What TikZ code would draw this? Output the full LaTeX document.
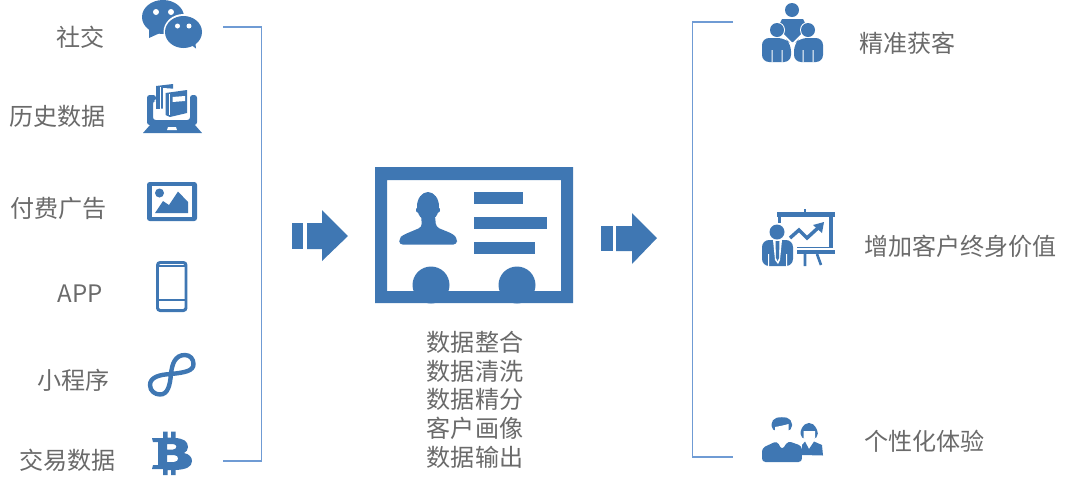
\documentclass[tikz,border=0pt]{standalone}
\usepackage{xcolor}
\usepackage{fontspec}
\setmainfont{Noto Sans CJK SC}
\usetikzlibrary{arrows.meta, positioning}
\definecolor{iconblue}{HTML}{3F77B3}
\definecolor{linkblue}{HTML}{6F9BD4}
\definecolor{labelgray}{HTML}{6A6A6A}
\tikzset{
    icon/.style={fill=iconblue, draw=none},
    cutout/.style={fill=white, draw=none},
    source/.style={font=\fontsize{13.7pt}{16pt}\selectfont, text=labelgray, inner sep=0pt},
    bracket/.style={draw=linkblue, line width=0.6pt},
}

\begin{document}
\begin{tikzpicture}[x=0.02cm, y=-0.02cm]
    \useasboundingbox (0, 0) rectangle (1080, 481);

    % left labels
    \node[source] (social) at (80.5, 37) {社交};
    \node[source] (history) at (57.5, 116) {历史数据};
    \node[source] (ads) at (58.5, 208.5) {付费广告};
    \node[source] (app) at (80.5, 293.5) {APP};
    \node[source] (miniapp) at (73.5, 380) {小程序};
    \node[source] (trade) at (67.5, 460) {交易数据};

    % center labels
    \node[source] (merge) at (475, 342) {数据整合};
    \node[source] (clean) at (475, 371) {数据清洗};
    \node[source] (refine) at (475, 399) {数据精分};
    \node[source] (portrait) at (475, 428) {客户画像};
    \node[source] (output) at (475, 457) {数据输出};

    % right labels
    \node[source] (acquire) at (907.5, 43) {精准获客};
    \node[source] (lifetime) at (960.5, 246) {增加客户终身价值};
    \node[source] (personal) at (924.5, 441) {个性化体验};

    % brackets
    \coordinate (lefttop) at (223, 27);
    \coordinate (leftbottom) at (223, 461);
    \coordinate (righttop) at (733, 22);
    \coordinate (rightbottom) at (733, 457);
    \draw[bracket] (lefttop) -- (261.5, 27) -- (261.5, 461) -- (leftbottom);
    \draw[bracket] (righttop) -- (692.5, 22) -- (692.5, 457) -- (rightbottom);

    % wechat
    \fill[icon] (163, 17) ellipse (21 and 17);
    \fill[icon] (149, 29) -- (149, 38) -- (160, 33) -- cycle;
    \fill[cutout] (183.5, 32) ellipse (20 and 18);
    \fill[icon] (183.5, 32) ellipse (18.5 and 16);
    \fill[icon] (190, 44) -- (196, 48.5) -- (195, 40) -- cycle;
    \fill[cutout] (156, 12) circle (3) (171, 12) circle (3);
    \fill[cutout] (177.5, 26) circle (2.5) (189, 26) circle (2.5);

    % laptop with books
    \fill[icon] (143, 133) -- (150, 125) -- (195, 125) -- (202, 133) -- cycle;
    \fill[icon, rounded corners=1.5] (156, 95) -- (147, 95) -- (147, 125) -- (197, 125) -- (197, 95) -- (190, 95) -- (190, 120) -- (153, 120) -- (153, 101) -- (156, 101) -- cycle;
    \fill[cutout] (167, 130) -- (168, 127) -- (176, 127) -- (177, 130) -- cycle;
    \fill[icon] (156, 86) -- (173, 84) -- (173, 108) -- (156, 109) -- cycle;
    \fill[cutout] (160, 87) -- (160, 109) -- (161, 109) -- (161, 87) -- cycle;
    \fill[cutout] (163, 88) -- (178, 89) -- (178, 113) -- (163, 115) -- cycle;
    \fill[icon] (165.5, 93) -- (187, 90) -- (187, 113) -- (170, 117) -- (165.5, 115) -- cycle;
    \fill[cutout] (168.5, 94) -- (169.5, 94) -- (169.5, 115) -- (168.5, 115) -- cycle;
    \fill[cutout] (172.5, 97) -- (185, 96) -- (185, 101) -- (172.5, 102) -- cycle;

    % picture frame
    \fill[icon, rounded corners=1.5] (147, 182) rectangle (197, 221);
    \fill[cutout] (152, 186) rectangle (192, 217);
    \fill[icon] (159.5, 193) circle (4.5);
    \fill[icon] (155, 213) -- (163, 201) -- (169, 205) -- (178, 191.5) -- (188, 202) -- (188, 213) -- cycle;

    % phone
    \draw[iconblue, line width=1.7pt, rounded corners=1.5] (157.5, 262.5) rectangle (186, 310.5);
    \draw[iconblue, line width=1pt] (157.5, 266) -- (186, 266) (157.5, 300) -- (186, 300);

    % mini program
    \draw[iconblue, line width=2.5pt, line cap=round]
        (171, 374) .. controls (172, 364) and (175, 355) .. (185, 355)
        .. controls (190, 355) and (193.5, 359) .. (193.5, 364)
        .. controls (193.5, 371) and (185, 372.5) .. (171, 374)
        .. controls (160, 374.5) and (150, 377) .. (150, 385)
        .. controls (150, 391) and (155, 394.5) .. (160, 394.5)
        .. controls (168, 394.5) and (170, 385) .. (171, 374) -- cycle;

    % bitcoin
    \fill[icon, even odd rule]
        (152, 438) -- (163, 438) -- (163, 431.5) -- (167.5, 431.5) -- (167.5, 437.5) -- (171, 437.5) -- (171, 431.5) -- (175.5, 431.5) -- (175.5, 438)
        .. controls (183, 438.5) and (188, 441) .. (188, 447)
        .. controls (188, 450) and (186, 452) .. (184, 453)
        .. controls (189, 454) and (192, 457) .. (192, 461)
        .. controls (192, 467) and (186, 469.5) .. (175.5, 470) -- (175.5, 475) -- (171, 475) -- (171, 470) -- (167.5, 470) -- (167.5, 475) -- (163, 475) -- (163, 469) -- (152, 469) -- (153, 465) -- (158, 465) -- (158, 442) -- (153, 442) -- cycle
        (167, 444) -- (173, 444) .. controls (177.5, 444) and (177.5, 449.5) .. (173, 449.5) -- (167, 449.5) -- cycle
        (167, 455) -- (174, 455) .. controls (179.5, 455) and (179.5, 462) .. (174, 462) -- (167, 462) -- cycle;

    % input arrow
    \fill[icon] (292, 223) rectangle (303, 249);
    \fill[icon] (307, 223) -- (322, 223) -- (322, 210) -- (348, 236) -- (322, 261) -- (322, 249) -- (307, 249) -- cycle;

    % id card
    \fill[icon, even odd rule] (375, 167) rectangle (573, 303) (387, 180) rectangle (561, 291);
    \fill[icon] (431, 285) circle (18.5) (517, 285) circle (18.5);
    \fill[icon] (474, 192) rectangle (523, 204);
    \fill[icon] (474, 217) rectangle (547, 229);
    \fill[icon] (474, 242) rectangle (535, 254);
    \fill[icon] (428, 206.5) ellipse (11 and 14.5);
    \fill[icon] (417.5, 210) ellipse (1.5 and 2.5) (438.5, 210) ellipse (1.5 and 2.5);
    \fill[icon, rounded corners=2] (399, 244.5) -- (399.5, 238) -- (403, 235) -- (422, 227) -- (421, 215) -- (435, 215) -- (436, 227) -- (453, 234) -- (457, 238) -- (457, 244.5) -- cycle;

    % output arrow
    \fill[icon] (601, 226) rectangle (613, 251);
    \fill[icon] (616, 226) -- (632, 226) -- (632, 213) -- (657, 238) -- (632, 264) -- (632, 251) -- (616, 251) -- cycle;

    % group of people
    \fill[icon] (792, 10) circle (7);
    \fill[icon] (782, 19) -- (803, 19) -- (806, 25) -- (806, 29) -- (793, 42) -- (792, 42) -- (779, 29) -- (779, 25) -- cycle;
    \fill[cutout] (777, 30) circle (8) (808, 30) circle (8);
    \fill[icon] (777, 30) circle (7) (808, 30) circle (7);
    \fill[cutout] (784, 37) -- (792.5, 46) -- (801, 37) -- (801, 39) -- (792.5, 48) -- (784, 39) -- cycle;
    \fill[icon, rounded corners=4] (762, 62) -- (762, 38) -- (785, 38) -- (791, 44) -- (791, 62) -- cycle;
    \fill[icon, rounded corners=4] (794, 62) -- (794, 44) -- (800, 38) -- (823, 38) -- (823, 62) -- cycle;
    \fill[cutout] (771.5, 50) rectangle (772.5, 62) (781.5, 50) rectangle (782.5, 62);
    \fill[cutout] (802.5, 50) rectangle (803.5, 62) (812.5, 50) rectangle (813.5, 62);

    % presenter
    \fill[icon] (777, 212) rectangle (835, 217);
    \fill[icon] (804, 209) rectangle (806, 212);
    \fill[icon] (778, 217) rectangle (781, 223);
    \fill[icon] (829, 217) rectangle (833, 248);
    \fill[icon] (797, 247) rectangle (830, 248);
    \fill[icon] (797, 250) rectangle (835, 254);
    \draw[iconblue, line width=1.5pt] (805, 254) -- (805, 266) (817, 254) -- (821, 265);
    \draw[iconblue, line width=2pt] (790, 238) -- (799, 230) -- (807, 238) -- (819, 227);
    \fill[icon] (824, 222) -- (822, 233) -- (813, 225) -- cycle;
    \fill[icon] (777, 232) circle (7.5);
    \fill[icon, rounded corners=4] (762, 266) -- (762, 240) -- (793, 240) -- (793, 266) -- cycle;
    \fill[cutout] (773, 240) -- (782, 240) -- (780, 260) -- (778, 264) -- (775, 260) -- cycle;
    \fill[icon] (775.5, 241) -- (779.5, 241) -- (779, 258) -- (777.5, 261) -- (776, 258) -- cycle;
    \fill[cutout] (768, 254) rectangle (769, 266) (786, 254) rectangle (787, 266);

    % two people
    \fill[icon, rounded corners=3] (771.5, 431) -- (771.5, 419) -- (782, 416.5) -- (792, 419) -- (792, 431) -- cycle;
    \fill[cutout] (775, 427) .. controls (781, 426) and (785, 425) .. (788.5, 424) -- (788.5, 433) .. controls (788, 441) and (775.5, 441) .. (775, 433) -- cycle;
    \fill[icon, rounded corners=2] (762, 462) -- (762, 448) -- (777, 441) -- (782, 450) -- (788, 441) -- (802, 446) -- (802, 462) -- cycle;
    \fill[cutout] (802, 455) rectangle (803, 462);
    \fill[icon, rounded corners=3] (800.5, 439) -- (800.5, 428) -- (809, 421) -- (817.5, 428) -- (818, 439) -- cycle;
    \fill[cutout] (803.5, 431) -- (815, 431) -- (815, 438) -- (809, 443) -- (803.5, 438) -- cycle;
    \fill[icon] (802, 455) -- (802, 445) -- (805, 441.5) -- (809, 449) -- (814, 441.5) -- (822, 445) -- (823, 455.5) -- cycle;
\end{tikzpicture}
\end{document}
